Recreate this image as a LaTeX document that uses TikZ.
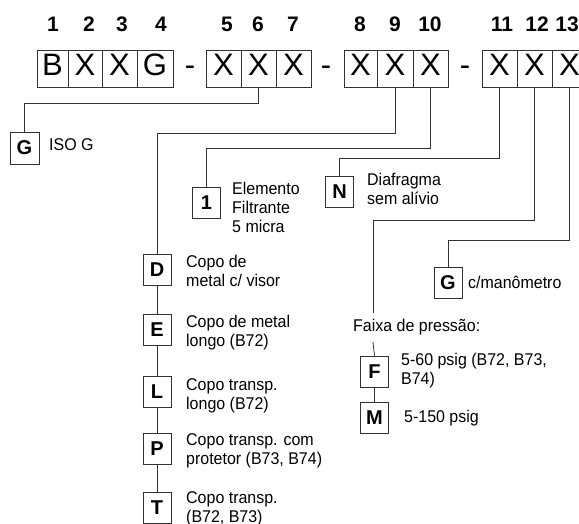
\documentclass[tikz,border=0pt]{standalone}
\usepackage{fontspec}
\setmainfont{Liberation Sans}
\newfontfamily\lblfont{Liberation Sans}[FakeStretch=0.94]
\begin{document}
\begin{tikzpicture}[x=1pt,y=-1pt,
  ln/.style={draw=black!80, line width=0.8pt},
  codebox/.style={draw=black!80, line width=0.8pt, inner sep=0pt, minimum height=37pt,
    text height=26pt, text depth=11pt, font=\fontsize{31}{31}\selectfont},
  dashtxt/.style={inner sep=0pt, anchor=base, font=\fontsize{31}{31}\selectfont},
  numtxt/.style={inner sep=0pt, anchor=base, font=\fontsize{21}{21}\selectfont\bfseries},
  sbox/.style={draw=black!80, line width=0.8pt, inner sep=0pt, minimum width=28pt,
    minimum height=31pt, font=\fontsize{20}{20}\selectfont\bfseries},
  lbl/.style={inner sep=0pt, anchor=base west, align=left, font=\lblfont\fontsize{17}{19}\selectfont}]
\useasboundingbox (0,0) rectangle (579,524);

% top code boxes
\node[codebox, minimum width=31pt] (b1) at (52.5,68.5) {B};
\node[codebox, minimum width=34pt] (b2) at (85,68.5) {X};
\node[codebox, minimum width=35pt] (b3) at (119.5,68.5) {X};
\node[codebox, minimum width=36pt] (b4) at (155,68.5) {G};
\node[dashtxt] (d1) at (190,76) {-};
\node[codebox, minimum width=35pt] (b5) at (223.5,68.5) {X};
\node[codebox, minimum width=35pt] (b6) at (258.5,68.5) {X};
\node[codebox, minimum width=35pt] (b7) at (293.5,68.5) {X};
\node[dashtxt] (d2) at (326,76) {-};
\node[codebox, minimum width=33pt] (b8) at (360.5,68.5) {X};
\node[codebox, minimum width=36pt] (b9) at (395,68.5) {X};
\node[codebox, minimum width=35pt] (b10) at (430.5,68.5) {X};
\node[dashtxt] (d3) at (465,76) {-};
\node[codebox, minimum width=35pt] (b11) at (499.5,68.5) {X};
\node[codebox, minimum width=35pt] (b12) at (534.5,68.5) {X};
\node[codebox, minimum width=35pt] (b13) at (569.5,68.5) {X};

% position numbers
\node[numtxt] (n1) at (53,31.5) {1};
\node[numtxt] (n2) at (89,31.5) {2};
\node[numtxt] (n3) at (122,31.5) {3};
\node[numtxt] (n4) at (161,31.5) {4};
\node[numtxt] (n5) at (227,31.5) {5};
\node[numtxt] (n6) at (258,31.5) {6};
\node[numtxt] (n7) at (293,31.5) {7};
\node[numtxt] (n8) at (360,31.5) {8};
\node[numtxt] (n9) at (395,31.5) {9};
\node[numtxt] (n10) at (430,31.5) {10};
\node[numtxt] (n11) at (502,31.5) {11};
\node[numtxt] (n12) at (537,31.5) {12};
\node[numtxt] (n13) at (567,31.5) {13};

% option boxes (label positions: baseline of the last line)
\node[sbox, minimum width=29pt, minimum height=32pt] (g1) at (24.5,148) {G};
\node[lbl] (tg1) at (49,151) {ISO G};

\node[sbox] (o1) at (206.5,202.5) {1};
\node[lbl] (to1) at (232,233) {Elemento\\Filtrante\\5 micra};

\node[sbox] (oN) at (339.5,192) {N};
\node[lbl] (toN) at (367,205) {Diafragma\\sem alívio};

\node[sbox] (oG) at (448,282.5) {G};
\node[lbl] (toG) at (468,288) {c/manômetro};

\node[lbl] (faixa) at (353,331) {Faixa de pressão:};
\node[sbox] (oF) at (374.5,371.5) {F};
\node[lbl] (toF) at (401,384) {5-60 psig (B72, B73,\\B74)};
\node[sbox] (oM) at (374.5,417.5) {M};
\node[lbl] (toM) at (404,422) {5-150 psig};

\node[sbox] (oD) at (157,270) {D};
\node[lbl] (toD) at (186,287) {Copo de\\metal c/ visor};
\node[sbox] (oE) at (157,330) {E};
\node[lbl] (toE) at (186,346) {Copo de metal\\longo (B72)};
\node[sbox] (oL) at (157,392) {L};
\node[lbl] (toL) at (186,409) {Copo transp.\\longo (B72)};
\node[sbox] (oP) at (157,448.5) {P};
\node[lbl] (toP) at (186,464) {Copo transp. com\\protetor (B73, B74)};
\node[sbox] (oT) at (157,507.5) {T};
\node[lbl] (toT) at (186,522) {Copo transp.\\(B72, B73)};

% connectors
\draw[ln] (b6.south) -- (b6.south |- 0,103) -| (g1.north);
\draw[ln] (b9.south) -- (b9.south |- 0,133) -| (oD.north);
\draw[ln] (oD.south) -- (oE.north);
\draw[ln] (oE.south) -- (oL.north);
\draw[ln] (oL.south) -- (oP.north);
\draw[ln] (oP.south) -- (oT.north);
\draw[ln] (b10.south) -- (b10.south |- 0,148) -| (o1.north);
\draw[ln] (b11.south) -- (b11.south |- 0,158) -| (oN.north);
\coordinate (fxtop) at (373,313);
\coordinate (fxbot) at (373,342);
\draw[ln] (b12.south) -- (b12.south |- 0,220) -| (fxtop);
\draw[ln] (fxbot) -- (oF.north);
\draw[ln] (oF.south) -- (oM.north);
\draw[ln] (b13.south) -- (b13.south |- 0,240) -| (oG.north);
\end{tikzpicture}
\end{document}
